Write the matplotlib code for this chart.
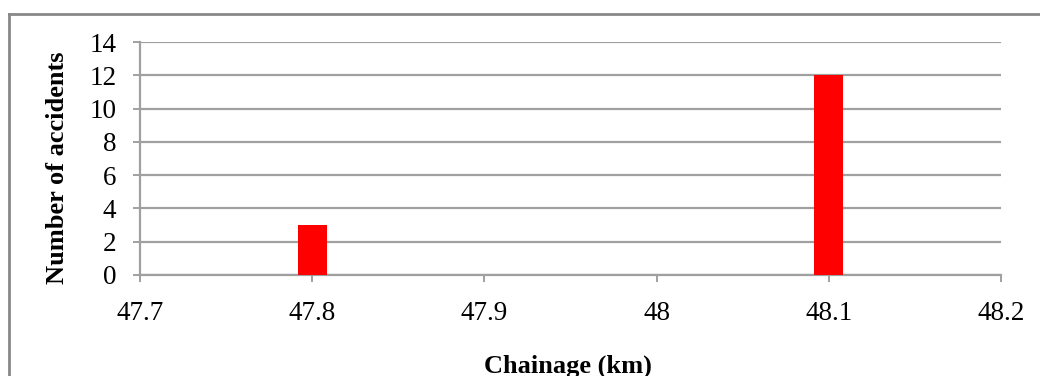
import matplotlib
matplotlib.use("Agg")
import matplotlib.pyplot as plt
from matplotlib.lines import Line2D

# Chart data
chainage_km = [47.8, 48.1]
accidents = [3, 12]
x_ticks = [47.7, 47.8, 47.9, 48.0, 48.1, 48.2]
x_tick_labels = ["47.7", "47.8", "47.9", "48", "48.1", "48.2"]
y_ticks = [0, 2, 4, 6, 8, 10, 12, 14]

plt.rcParams["font.family"] = ["Liberation Serif", "DejaVu Serif"]

W, H = 1040, 376
fig = plt.figure(figsize=(W / 100, H / 100), dpi=100)
ax = fig.add_axes([140 / W, 1 - 275 / H, (1001 - 140) / W, (275 - 42) / H])

grid_col = "#a0a0a0"
ax.bar(chainage_km, accidents, width=0.0168, color="#ff0000", zorder=3)

ax.set_xlim(47.7, 48.2)
ax.set_ylim(0, 14)
ax.set_xticks(x_ticks)
ax.set_xticklabels(x_tick_labels)
ax.set_yticks(y_ticks)

ax.yaxis.grid(True, color=grid_col, linewidth=1.6, zorder=0)
ax.set_axisbelow(True)
for side in ["top", "right"]:
    ax.spines[side].set_visible(False)
ax.spines["left"].set_color(grid_col)
ax.spines["left"].set_linewidth(1.6)
ax.spines["bottom"].set_color(grid_col)
ax.spines["bottom"].set_linewidth(1.6)

ax.tick_params(axis="both", colors=grid_col, labelcolor="black", labelsize=19.5,
               length=5, width=1.4, direction="out")
ax.tick_params(axis="y", pad=12)
ax.tick_params(axis="x", pad=13.5)

fig.text(58 / W, 1 - 168 / H, "Number of accidents", rotation=90, ha="center", va="center",
         fontsize=19, fontweight="bold")
fig.text(568 / W, 1 - 366 / H, "Chainage (km)", ha="center", va="center",
         fontsize=19, fontweight="bold")

# outer chart border (left and top edges visible)
fig.add_artist(Line2D([9 / W, 9 / W], [0, 1 - 14 / H], transform=fig.transFigure,
                      color="#888888", linewidth=2))
fig.add_artist(Line2D([9 / W, 1], [1 - 14 / H, 1 - 14 / H], transform=fig.transFigure,
                      color="#888888", linewidth=2))

fig.savefig("out.png", dpi=100)
